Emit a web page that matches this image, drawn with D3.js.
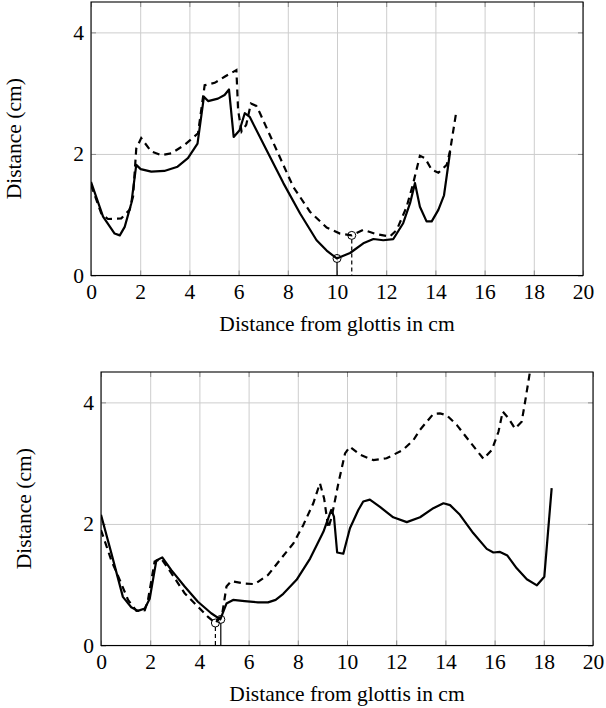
<!DOCTYPE html>
<html>
<head>
<meta charset="utf-8">
<script src="https://cdn.jsdelivr.net/npm/d3@7"></script>
<style>
  body { margin: 0; background: #fff; }
  svg { display: block; font-family: "Liberation Serif", "Times New Roman", serif; }
</style>
</head>
<body>
<div id="chart"></div>
<script>
// ----- data (x in cm from glottis, y distance in cm) -----
var xTicks = [0, 2, 4, 6, 8, 10, 12, 14, 16, 18, 20];
var yTicks = [0, 2, 4];
var xLabel = "Distance from glottis in cm";
var yLabel = "Distance (cm)";

// top panel
var topSolid = [[0,1.54],[0.49,0.97],[0.96,0.69],[1.17,0.66],[1.37,0.80],[1.64,1.19],[1.84,1.82],[2.02,1.75],
  [2.45,1.71],[2.98,1.72],[3.52,1.79],[3.94,1.93],[4.33,2.17],[4.59,2.94],[4.76,2.87],[5.16,2.91],[5.43,2.97],
  [5.61,3.06],[5.80,2.28],[6.04,2.39],[6.25,2.67],[6.45,2.61],[7.14,2.06],[7.82,1.52],[8.5,1.02],[9.17,0.58],
  [9.58,0.41],[9.99,0.28],[10.53,0.37],[11.07,0.53],[11.48,0.60],[11.88,0.58],[12.29,0.60],[12.69,0.86],
  [12.97,1.19],[13.17,1.52],[13.37,1.13],[13.64,0.89],[13.85,0.89],[14.12,1.08],[14.35,1.32],[14.6,2.04]];
var topDashed = [[0,1.49],[0.42,1.02],[0.69,0.93],[1.23,0.94],[1.57,1.08],[1.71,1.30],[1.84,2.09],[2.04,2.26],
  [2.45,2.04],[2.86,1.98],[3.26,2.01],[3.81,2.15],[4.35,2.34],[4.62,3.13],[5.03,3.17],[5.43,3.27],[5.91,3.38],
  [5.98,2.72],[6.12,2.37],[6.31,2.48],[6.5,2.83],[6.72,2.79],[6.87,2.67],[7.55,2.06],[8.22,1.46],[8.9,1.05],
  [9.58,0.79],[10.12,0.69],[10.6,0.66],[11.07,0.75],[11.61,0.68],[12.15,0.64],[12.43,0.75],[12.83,1.13],
  [13.1,1.52],[13.37,1.97],[13.58,1.93],[13.85,1.74],[14.12,1.69],[14.46,1.82],[14.6,2.06],[14.84,2.67]];
var topSolidMin = [10.0, 0.28];
var topDashedMin = [10.6, 0.66];

// bottom panel
var botSolid = [[0,2.15],[0.42,1.52],[0.89,0.80],[1.23,0.63],[1.5,0.57],[1.78,0.61],[1.98,0.77],[2.25,1.40],
  [2.49,1.45],[2.86,1.24],[3.40,0.97],[3.94,0.72],[4.48,0.53],[4.85,0.43],[5.10,0.69],[5.37,0.75],[5.84,0.73],
  [6.38,0.71],[6.79,0.71],[7.1,0.75],[7.41,0.85],[7.95,1.08],[8.5,1.43],[9.04,1.87],[9.36,2.23],[9.47,2.12],
  [9.6,1.53],[9.85,1.51],[10.12,1.93],[10.46,2.23],[10.66,2.37],[10.93,2.40],[11.34,2.28],[11.88,2.11],
  [12.43,2.03],[12.97,2.11],[13.51,2.26],[13.92,2.34],[14.19,2.31],[14.59,2.15],[15.13,1.85],[15.68,1.59],
  [15.95,1.53],[16.22,1.54],[16.52,1.48],[16.9,1.27],[17.31,1.09],[17.72,0.99],[18.02,1.13],[18.32,2.59]];
var botDashed = [[0,1.90],[0.42,1.40],[0.76,1.08],[1.10,0.75],[1.44,0.57],[1.78,0.58],[1.91,0.75],[2.18,1.38],
  [2.45,1.43],[2.86,1.19],[3.40,0.86],[3.94,0.64],[4.35,0.47],[4.65,0.37],[4.92,0.50],[5.10,0.97],[5.30,1.06],
  [5.84,1.02],[6.25,1.01],[6.79,1.16],[7.28,1.41],[7.82,1.68],[8.22,1.98],[8.63,2.34],[8.9,2.67],[9.07,2.42],
  [9.24,1.93],[9.38,2.12],[9.65,2.67],[9.92,3.16],[10.12,3.27],[10.53,3.14],[11.07,3.05],[11.61,3.08],
  [12.28,3.22],[12.70,3.38],[12.97,3.55],[13.51,3.81],[13.78,3.82],[14.05,3.79],[14.46,3.63],[15.0,3.35],
  [15.55,3.07],[15.89,3.22],[16.16,3.52],[16.33,3.85],[16.56,3.74],[16.83,3.57],[17.1,3.68],[17.24,4.01],
  [17.44,4.51],[17.55,4.8]];
var botSolidMin = [4.87, 0.43];
var botDashedMin = [4.65, 0.37];

// ----- drawing -----
var svg = d3.select("#chart").append("svg")
  .attr("width", 606)
  .attr("height", 708);

var fontSize = 21.5;

function drawPanel(opts) {
  var w = 492, h = 273.5;
  var g = svg.append("g").attr("transform", "translate(" + opts.left + "," + opts.top + ")");

  var x = d3.scaleLinear().domain([0, 20]).range([0, w]);
  var y = d3.scaleLinear().domain([0, 4.5]).range([h, 0]);

  // grid lines
  g.append("g")
    .attr("transform", "translate(0," + h + ")")
    .call(d3.axisBottom(x).tickValues(xTicks).tickSize(-h).tickFormat(""))
    .call(a => a.select(".domain").remove())
    .selectAll("line").attr("stroke", "#cdcdcd");
  g.append("g")
    .call(d3.axisLeft(y).tickValues(yTicks).tickSize(-w).tickFormat(""))
    .call(a => a.select(".domain").remove())
    .selectAll("line").attr("stroke", "#cdcdcd");

  // short inward tick marks on all four sides
  var tk = 5;
  [[d3.axisBottom(x).tickValues(xTicks), "translate(0," + h + ")"],
   [d3.axisTop(x).tickValues(xTicks), null],
   [d3.axisLeft(y).tickValues(yTicks), null],
   [d3.axisRight(y).tickValues(yTicks), "translate(" + w + ",0)"]].forEach(function(p) {
    var ax = g.append("g");
    if (p[1]) ax.attr("transform", p[1]);
    ax.call(p[0].tickSize(-tk).tickFormat(""))
      .call(a => a.select(".domain").remove())
      .selectAll("line").attr("stroke", "#8c8c8c");
  });

  // tick labels
  g.append("g")
    .attr("transform", "translate(0," + h + ")")
    .call(d3.axisBottom(x).tickValues(xTicks).tickSize(0).tickPadding(8).tickFormat(d3.format("d")))
    .call(a => a.select(".domain").remove())
    .selectAll("text")
      .attr("fill", "#000")
      .style("font-size", fontSize + "px")
      .style("font-family", "Liberation Serif");
  g.append("g")
    .call(d3.axisLeft(y).tickValues(yTicks).tickSize(0).tickPadding(7).tickFormat(d3.format("d")))
    .call(a => a.select(".domain").remove())
    .selectAll("text")
      .attr("fill", "#000")
      .style("font-size", fontSize + "px")
      .style("font-family", "Liberation Serif");

  // axis titles
  g.append("text")
    .attr("x", w / 2)
    .attr("y", h + 55)
    .attr("text-anchor", "middle")
    .style("font-size", fontSize + "px")
    .text(xLabel);
  g.append("text")
    .attr("transform", "translate(-70," + (h / 2) + ") rotate(-90)")
    .attr("text-anchor", "middle")
    .style("font-size", fontSize + "px")
    .text(yLabel);

  // clip for the data lines
  var clipId = "clip" + opts.id;
  g.append("clipPath").attr("id", clipId)
    .append("rect").attr("width", w).attr("height", h);

  var line = d3.line().x(d => x(d[0])).y(d => y(d[1]));
  var plot = g.append("g").attr("clip-path", "url(#" + clipId + ")");

  plot.append("path")
    .datum(opts.solid)
    .attr("d", line)
    .style("fill", "none")
    .style("stroke", "#000")
    .style("stroke-width", "2.2px")
    .style("stroke-linejoin", "round");

  plot.append("path")
    .datum(opts.dashed)
    .attr("d", line)
    .style("fill", "none")
    .style("stroke", "#000")
    .style("stroke-width", "2.2px")
    .style("stroke-dasharray", "7,5");

  // minima: drop lines + circle markers
  [[opts.solidMin, null], [opts.dashedMin, "4,3"]].forEach(function(m) {
    var p = m[0];
    g.append("line")
      .attr("x1", x(p[0])).attr("x2", x(p[0]))
      .attr("y1", y(p[1]) + 4).attr("y2", y(0))
      .style("stroke", "#000")
      .style("stroke-width", "1.2px")
      .style("stroke-dasharray", m[1]);
    g.append("circle")
      .attr("cx", x(p[0])).attr("cy", y(p[1]))
      .attr("r", 4)
      .style("fill", "none")
      .style("stroke", "#000")
      .style("stroke-width", "1px");
  });

  // frame
  g.append("rect")
    .attr("width", w).attr("height", h)
    .style("fill", "none")
    .style("stroke", "#000")
    .style("stroke-width", "1.1px");
}

drawPanel({ id: 1, left: 91, top: 2, solid: topSolid, dashed: topDashed,
  solidMin: topSolidMin, dashedMin: topDashedMin });
drawPanel({ id: 2, left: 101, top: 372, solid: botSolid, dashed: botDashed,
  solidMin: botSolidMin, dashedMin: botDashedMin });
</script>
</body>
</html>
